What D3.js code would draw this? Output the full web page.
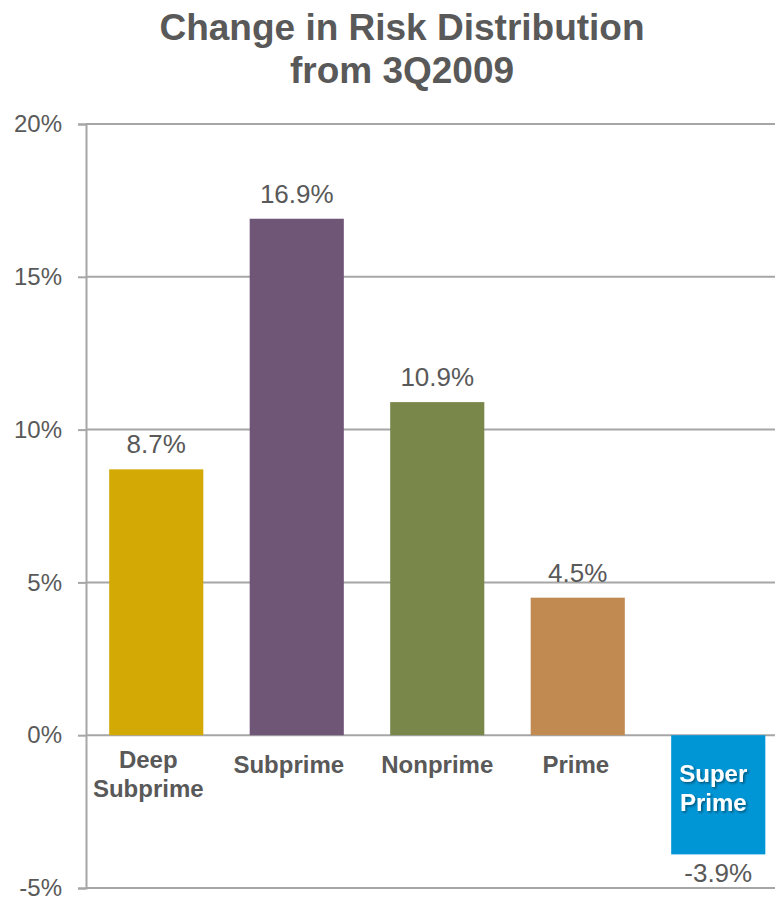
<!DOCTYPE html>
<html>
<head>
<meta charset="utf-8">
<script src="https://cdn.jsdelivr.net/npm/d3@7"></script>
<style>
  html, body { margin: 0; padding: 0; background: #fff; }
  svg { display: block; font-family: "Liberation Sans", Arial, sans-serif; }
</style>
</head>
<body>
<svg id="chart" width="775" height="897"></svg>
<script>
// Change in risk distribution by tier
const categories = ["Deep Subprime", "Subprime", "Nonprime", "Prime", "Super Prime"];
const categoryLines = [["Deep", "Subprime"], ["Subprime"], ["Nonprime"], ["Prime"], ["Super", "Prime"]];
const values = [8.7, 16.9, 10.9, 4.5, -3.9];
const colors = ["#D3A905", "#6F5677", "#7A874B", "#C08A50", "#0096D6"];
const yTicks = [-5, 0, 5, 10, 15, 20];
const titleLines = ["Change in Risk Distribution", "from 3Q2009"];

// Horizontal nudge of each category label relative to its bar centre (px)
const labelNudge = [-8, -8, 0, -2, -5];

const svg = d3.select("#chart");
const textGray = "#595959";
const gridGray = "#a6a6a6";

const x = d3.scaleBand()
  .domain(categories)
  .range([86, 788.5])
  .paddingInner(0.33)
  .paddingOuter(0.165);

const y = d3.scaleLinear()
  .domain([-5, 20])
  .range([888, 124]);

// Title
svg.append("g").selectAll("text")
  .data(titleLines)
  .join("text")
  .attr("x", 402)
  .attr("y", (d, i) => 40 + i * 43)
  .attr("text-anchor", "middle")
  .attr("font-size", 37)
  .attr("font-weight", "bold")
  .attr("fill", textGray)
  .text(d => d);

// Y axis with outward ticks
const yAxis = d3.axisLeft(y)
  .tickValues(yTicks)
  .tickSize(8)
  .tickFormat(d => d + "%");

const gAxis = svg.append("g")
  .attr("transform", "translate(86,0)")
  .call(yAxis);
gAxis.select(".domain").attr("stroke", gridGray).attr("stroke-width", 2);
gAxis.selectAll(".tick line").attr("stroke", gridGray).attr("stroke-width", 2);
gAxis.selectAll(".tick text")
  .attr("x", -24)
  .attr("font-size", 24)
  .attr("font-family", "Liberation Sans, Arial, sans-serif")
  .attr("fill", textGray);

// Horizontal gridlines
svg.append("g").selectAll("line")
  .data(yTicks)
  .join("line")
  .attr("x1", 86)
  .attr("x2", 775)
  .attr("y1", d => y(d))
  .attr("y2", d => y(d))
  .attr("stroke", gridGray)
  .attr("stroke-width", 2);

// Bars
svg.append("g").selectAll("rect")
  .data(values)
  .join("rect")
  .attr("x", (d, i) => x(categories[i]))
  .attr("width", x.bandwidth())
  .attr("y", d => y(Math.max(0, d)))
  .attr("height", d => Math.abs(y(d) - y(0)))
  .attr("fill", (d, i) => colors[i]);

// Value labels
svg.append("g").selectAll("text")
  .data(values)
  .join("text")
  .attr("x", (d, i) => x(categories[i]) + x.bandwidth() / 2)
  .attr("y", d => d >= 0 ? y(d) - 16 : y(d) + 28)
  .attr("text-anchor", "middle")
  .attr("font-size", 26)
  .attr("fill", textGray)
  .text(d => d.toFixed(1) + "%");

// Category labels (white with shadow when inside a negative bar)
const defs = svg.append("defs");
const shadow = defs.append("filter").attr("id", "labelShadow")
  .attr("x", "-20%").attr("y", "-20%").attr("width", "140%").attr("height", "140%");
shadow.append("feDropShadow")
  .attr("dx", 1.5).attr("dy", 1.5).attr("stdDeviation", 0.8)
  .attr("flood-color", "#000").attr("flood-opacity", 0.45);

categoryLines.forEach((lines, i) => {
  const neg = values[i] < 0;
  const cx = x(categories[i]) + x.bandwidth() / 2 + labelNudge[i];
  const startY = lines.length === 1 ? 773 : (neg ? 782 : 768);
  const t = svg.append("text")
    .attr("text-anchor", "middle")
    .attr("font-size", 24)
    .attr("font-weight", "bold")
    .attr("fill", neg ? "#ffffff" : textGray)
    .attr("filter", neg ? "url(#labelShadow)" : null);
  lines.forEach((ln, j) => {
    t.append("tspan")
      .attr("x", cx)
      .attr("y", startY + j * 28.5)
      .text(ln);
  });
});
</script>
</body>
</html>
